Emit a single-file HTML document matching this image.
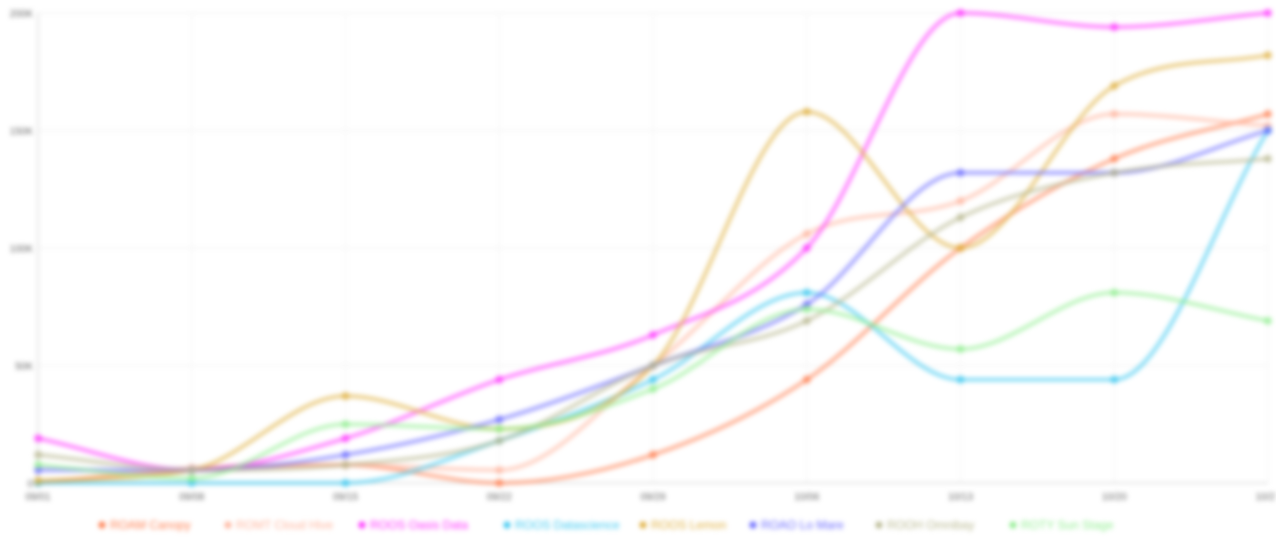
<!DOCTYPE html>
<html><head><meta charset="utf-8"><style>
body{margin:0;background:#fff;width:1276px;height:544px;overflow:hidden;font-family:"Liberation Sans",sans-serif}
#wrap{filter:blur(2.4px)}
</style></head><body>
<div id="wrap">
<svg id="chart" width="1276" height="544"></svg>
</div>
<script>
const categories=["09/01","09/08","09/15","09/22","09/29","10/06","10/13","10/20","10/27"];
const yTicks=[0,5,10,15,20];
const yTickLabels=["0","50K","100K","150K","200K"];
const seriesNames=["ROAM Canopy","ROMT Cloud Hive","ROOS Oasis Data","ROOS Datascience","ROOS Lemon","ROAO Lo Mare","ROOH Omnibay","ROTY Sun Stage"];
const seriesColors=["#ff7f50","#ffb49c","#ff33ff","#3cc8f0","#e0b040","#6a6aff","#b8b890","#90ee90"];
const s0=[0,0.55,0.77,0,1.2,4.4,10,13.8,15.7];
const s1=[0,0.64,0.77,0.55,5,10.6,12,15.7,15.2];
const s2=[1.9,0.55,1.9,4.4,6.3,10,20,19.4,20];
const s3=[0,0,0,1.8,4.4,8.1,4.4,4.4,15];
const s4=[0.1,0.55,3.7,2.3,5,15.8,10,16.9,18.2];
const s5=[0.55,0.55,1.2,2.7,5,7.6,13.2,13.2,15];
const s6=[1.2,0.55,0.77,1.8,5,6.9,11.3,13.2,13.8];
const s7=[0.77,0.2,2.5,2.3,4,7.4,5.7,8.1,6.9];
const seriesValues=[s0,s1,s2,s3,s4,s5,s6,s7];

const NS="http://www.w3.org/2000/svg",svg=document.getElementById('chart');
const x0=38,x1=1268,y0=483,y1=13;
const xs=i=>x0+(x1-x0)*i/(categories.length-1);
const ys=v=>y0-(y0-y1)*v/20;
function mk(t,a){const e=document.createElementNS(NS,t);for(const k in a)e.setAttribute(k,a[k]);svg.appendChild(e);return e;}
yTicks.forEach((t,i)=>{
 const g=mk('line',{x1:x0,x2:x1,y1:ys(t),y2:ys(t),stroke:'#eee','stroke-width':1});
 
 
 const l=mk('text',{x:33,y:ys(t)+4,'text-anchor':'end','font-size':10,fill:'#666'});l.textContent=yTickLabels[i];
 
 
});
categories.forEach((c,i)=>{
 const g=mk('line',{x1:xs(i),x2:xs(i),y1:y1,y2:y0,stroke:'#f2f2f2','stroke-width':1});
 
 
 const l=mk('text',{x:xs(i),y:500,'text-anchor':'middle','font-size':10,fill:'#666'});l.textContent=c;
 
 
});
const ax=mk('line',{x1:x0,x2:x0,y1:y1,y2:y0,stroke:'#ccc'});


const bx=mk('line',{x1:x0,x2:x1,y1:y0,y2:y0,stroke:'#ccc'});


function pathD(v){
 const p=v.map((d,i)=>[xs(i),ys(d)]),n=p.length,h=p[1][0]-p[0][0];
 const dl=[];for(let i=0;i<n-1;i++)dl.push((p[i+1][1]-p[i][1])/h);
 const m=[dl[0]];
 for(let i=1;i<n-1;i++){m.push(dl[i-1]*dl[i]<=0?0:(dl[i-1]+dl[i])/2);}
 m.push(dl[n-2]);
 for(let i=0;i<n-1;i++){
  if(dl[i]===0){m[i]=0;m[i+1]=0;continue;}
  const a=m[i]/dl[i],b=m[i+1]/dl[i],s=a*a+b*b;
  if(s>9){const t=3/Math.sqrt(s);m[i]=t*a*dl[i];m[i+1]=t*b*dl[i];}
 }
 let d='M'+p[0];
 for(let i=0;i<n-1;i++){
  d+='C'+[p[i][0]+h/3,p[i][1]+m[i]*h/3]+' '+[p[i+1][0]-h/3,p[i+1][1]-m[i+1]*h/3]+' '+p[i+1];
 }return d;
}
seriesValues.forEach((v,si)=>{
 const p=mk('path',{d:pathD(v),fill:'none',stroke:seriesColors[si],'stroke-width':4,'stroke-opacity':0.6});
 
 
 v.forEach((d,i)=>{
  const c=mk('circle',{cx:xs(i),cy:ys(d),r:4,fill:seriesColors[si],'fill-opacity':0.7});
  
  
 });
});
const legX=[98,224,358,503,639,749,875,1009];
seriesNames.forEach((n,i)=>{
 const c=mk('circle',{cx:legX[i]+4,cy:525,r:3.5,fill:seriesColors[i]});
 
 
 const t=mk('text',{x:legX[i]+12,y:529,'font-size':12,fill:seriesColors[i]});t.textContent=n;
 
 
});
</script>
</body></html>
